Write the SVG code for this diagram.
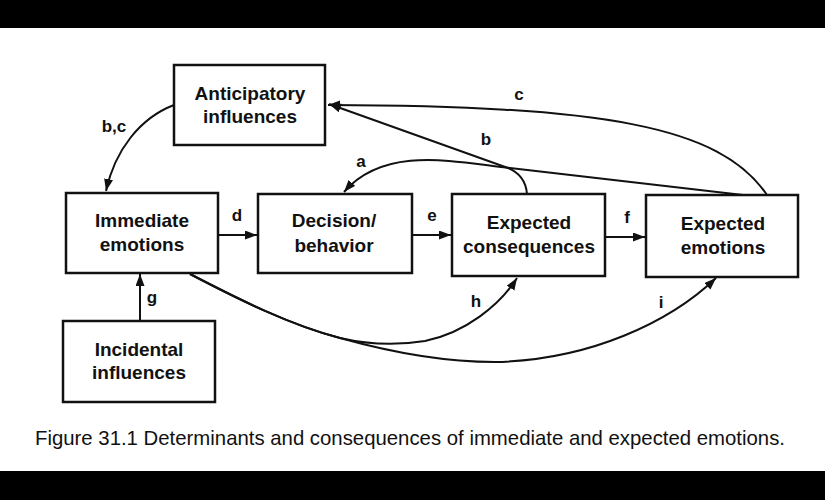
<svg xmlns="http://www.w3.org/2000/svg" width="825" height="500" viewBox="0 0 825 500">
<style>
.box{fill:#fff;stroke:#111;stroke-width:2.5}
.t{font-family:"Liberation Sans",Arial,sans-serif;font-size:19px;font-weight:bold;fill:#111;text-anchor:middle}
.lbl{font-family:"Liberation Sans",Arial,sans-serif;font-size:17px;font-weight:bold;fill:#111;text-anchor:middle}
.c{fill:none;stroke:#111;stroke-width:2}
.cap{font-family:"Liberation Sans Narrow","Liberation Sans",Arial,sans-serif;font-size:21px;fill:#111}
</style>
<defs>
<marker id="ah" markerUnits="userSpaceOnUse" markerWidth="13" markerHeight="10" refX="12" refY="4.5" orient="auto">
<path d="M0,0 L12,4.5 L0,9 z" fill="#111"/>
</marker>
</defs>
<rect x="0" y="0" width="825" height="500" fill="#fff"/>
<rect x="0" y="0" width="825" height="28" fill="#000"/>
<rect x="0" y="471" width="825" height="29" fill="#000"/>

<g id="connectors">
<path class="c" d="M174,105 C140,118 115,150 106,191" marker-end="url(#ah)"/>
<path class="c" d="M218,235 L257,235" marker-end="url(#ah)"/>
<path class="c" d="M412,235 L451,235" marker-end="url(#ah)"/>
<path class="c" d="M605,237 L645,237" marker-end="url(#ah)"/>
<path class="c" d="M140,321 L140,274" marker-end="url(#ah)"/>
<path class="c" d="M743,195 L510,168 C455,162 385,145 344,192" marker-end="url(#ah)"/>
<path class="c" d="M527,194 C526,182 520,173 508,168 L329,104" marker-end="url(#ah)"/>
<path class="c" d="M767,195 C720,125 600,106 328,105" marker-end="url(#ah)"/>
<path class="c" d="M190,274 C240,300 290,325 340,338 C370,345 400,345 425,341 C465,333 500,305 517,278" marker-end="url(#ah)"/>
<path class="c" d="M190,274 C240,300 290,325 340,338 C390,352 440,362 495,362 C590,360 670,322 716,278" marker-end="url(#ah)"/>
<text class="lbl" x="114" y="132">b,c</text>
<text class="lbl" x="237" y="221">d</text>
<text class="lbl" x="432" y="221">e</text>
<text class="lbl" x="627" y="223">f</text>
<text class="lbl" x="152" y="303">g</text>
<text class="lbl" x="476" y="307">h</text>
<text class="lbl" x="661" y="308">i</text>
<text class="lbl" x="361" y="167">a</text>
<text class="lbl" x="486" y="145">b</text>
<text class="lbl" x="519" y="100">c</text>
</g>

<g id="anticipatory">
<rect class="box" x="174" y="65" width="151" height="80"/>
<text class="t" x="250" y="100">Anticipatory</text>
<text class="t" x="250" y="123">influences</text>
</g>
<g id="immediate">
<rect class="box" x="66" y="193" width="152" height="80"/>
<text class="t" x="142" y="227">Immediate</text>
<text class="t" x="142" y="251">emotions</text>
</g>
<g id="decision">
<rect class="box" x="258" y="194" width="154" height="79"/>
<text class="t" x="334" y="227">Decision/</text>
<text class="t" x="334" y="252">behavior</text>
</g>
<g id="expected-consequences">
<rect class="box" x="452" y="194" width="153" height="82"/>
<text class="t" x="529" y="229">Expected</text>
<text class="t" x="529" y="253">consequences</text>
</g>
<g id="expected-emotions">
<rect class="box" x="646" y="195" width="152" height="82"/>
<text class="t" x="723" y="230">Expected</text>
<text class="t" x="723" y="254">emotions</text>
</g>
<g id="incidental">
<rect class="box" x="63" y="321" width="152" height="81"/>
<text class="t" x="139" y="356">Incidental</text>
<text class="t" x="139" y="379">influences</text>
</g>

<text class="cap" x="35" y="445" textLength="750" lengthAdjust="spacingAndGlyphs">Figure 31.1  Determinants and consequences of immediate and expected emotions.</text>
</svg>
